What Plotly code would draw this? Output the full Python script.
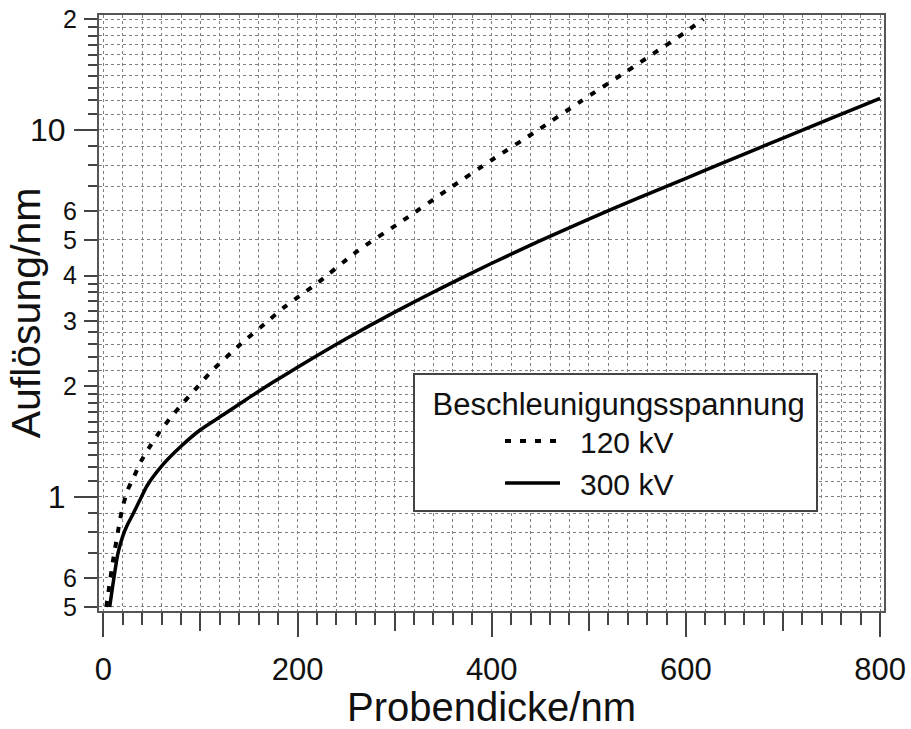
import plotly.graph_objects as go

# ---- data ----
thick_120 = [3, 6.5, 10, 12, 17, 20, 25, 32, 39, 48, 58, 70, 83, 97, 111, 142, 171, 187, 202, 218,
             262, 309, 355, 400, 446, 491, 539, 568, 598, 618]
res_120 = [0.5, 0.58, 0.67, 0.72, 0.86, 0.94, 1.04, 1.14, 1.25, 1.37, 1.50, 1.65, 1.81, 1.99, 2.19,
           2.61, 3.03, 3.29, 3.52, 3.77, 4.67, 5.66, 6.87, 8.26, 9.9, 11.9, 14.4, 16.2, 18.3, 20.0]

thick_300 = [6.5, 10, 15, 20, 25, 30, 37, 45, 60, 80, 100, 125, 150, 175, 200, 250, 300, 350,
             400, 450, 500, 550, 600, 650, 700, 750, 800]
res_300 = [0.5, 0.58, 0.70, 0.78, 0.84, 0.89, 0.97, 1.07, 1.21, 1.37, 1.52, 1.68, 1.86, 2.05, 2.25,
           2.69, 3.18, 3.72, 4.32, 4.98, 5.70, 6.49, 7.36, 8.36, 9.48, 10.74, 12.16]

series_names = ["120 kV", "300 kV"]
legend_title = "Beschleunigungsspannung"
x_title = "Probendicke/nm"
y_title = "Auflösung/nm"

x_major = [0, 200, 400, 600, 800]
x_mid = [100, 300, 500, 700]
y_small_vals = [0.5, 0.6, 2, 3, 4, 5, 6, 20]
y_small_text = ["5", "6", "2", "3", "4", "5", "6", "2"]
y_big_vals = [1, 10]
y_big_text = ["1", "10"]
y_minor_vals = ([0.7, 0.8, 0.9, 1.0] + [1.1, 1.2, 1.3, 1.4, 1.5, 1.6, 1.7, 1.8, 1.9] +
                [2.2, 2.4, 2.6, 2.8, 3.2, 3.4, 3.6, 3.8] + [7, 8, 9, 10] +
                [11, 12, 13, 14, 15, 16, 17, 18, 19])

FONT = "Liberation Sans, Arial, Helvetica, sans-serif"
GRID = "#808080"
FRAME = "#555555"
TICK = "#444444"
x_range = [-4.5, 804]
y_range = [-0.312, 1.312]

fig = go.Figure()
fig.add_trace(go.Scatter(x=thick_120, y=res_120, mode="lines", name="\u2002" + series_names[0],
                         line=dict(color="black", width=4, dash="6px,9px", shape="spline",
                                   smoothing=0.6),
                         xaxis="x", yaxis="y"))
fig.add_trace(go.Scatter(x=thick_300, y=res_300, mode="lines", name="\u2002" + series_names[1],
                         line=dict(color="black", width=3.5, shape="spline", smoothing=0.6),
                         xaxis="x2", yaxis="y2"))

fig.update_layout(
    width=911, height=729,
    margin=dict(l=99, r=27, t=15, b=118, autoexpand=False),
    paper_bgcolor="white", plot_bgcolor="white",
    font=dict(family=FONT, color="#111111"),
    xaxis=dict(
        range=x_range, showline=True, linecolor=FRAME, linewidth=2, mirror=True,
        automargin=False,
        ticks="outside", tickvals=x_major, ticklen=24, tickwidth=2, tickcolor=TICK,
        tickfont=dict(size=31), ticklabelstandoff=6,
        showgrid=True, gridcolor=GRID, griddash="dot", gridwidth=1.3, zeroline=False,
        minor=dict(dtick=20, tick0=0, ticks="outside", ticklen=12, tickwidth=2, tickcolor=TICK,
                   showgrid=True, gridcolor=GRID, griddash="dot", gridwidth=1.3),
        title=dict(text=x_title, font=dict(size=40), standoff=12),
    ),
    xaxis2=dict(
        range=x_range, overlaying="x", anchor="y2", side="bottom", automargin=False,
        ticks="outside", tickvals=x_mid, ticklen=19, tickwidth=2, tickcolor=TICK,
        showticklabels=False, showgrid=False, zeroline=False, showline=False,
    ),
    yaxis=dict(
        type="log", range=y_range, showline=True, linecolor=FRAME, linewidth=2, mirror=True,
        automargin=False,
        ticks="outside", tickvals=y_small_vals, ticktext=y_small_text, ticklen=13, tickwidth=2,
        tickcolor=TICK, tickfont=dict(size=25), ticklabelstandoff=2,
        showgrid=True, gridcolor=GRID, griddash="dot", gridwidth=1.3, zeroline=False,
        minor=dict(tickmode="array", tickvals=y_minor_vals, ticks="outside", ticklen=9, tickwidth=2,
                   tickcolor=TICK, showgrid=True, gridcolor=GRID, griddash="dot", gridwidth=1.3),
        title=dict(text=y_title, font=dict(size=41), standoff=10),
    ),
    yaxis2=dict(
        type="log", range=y_range, overlaying="y", anchor="x2", side="left", automargin=False,
        ticks="outside", tickvals=y_big_vals, ticktext=y_big_text, ticklen=24, tickwidth=2,
        tickcolor=TICK, tickfont=dict(size=32), ticklabelstandoff=2,
        showgrid=False, zeroline=False, showline=False,
    ),
    legend=dict(
        x=0.4, y=0.4, xanchor="left", yanchor="top",
        bgcolor="white", bordercolor="#444444", borderwidth=2,
        font=dict(size=30), indentation=85, itemwidth=55,
        title=dict(text="\u2002" + legend_title + "\u00a0", font=dict(size=31), side="top"),
        tracegroupgap=0,
    ),
    showlegend=True,
)

fig.write_html("out.html")
